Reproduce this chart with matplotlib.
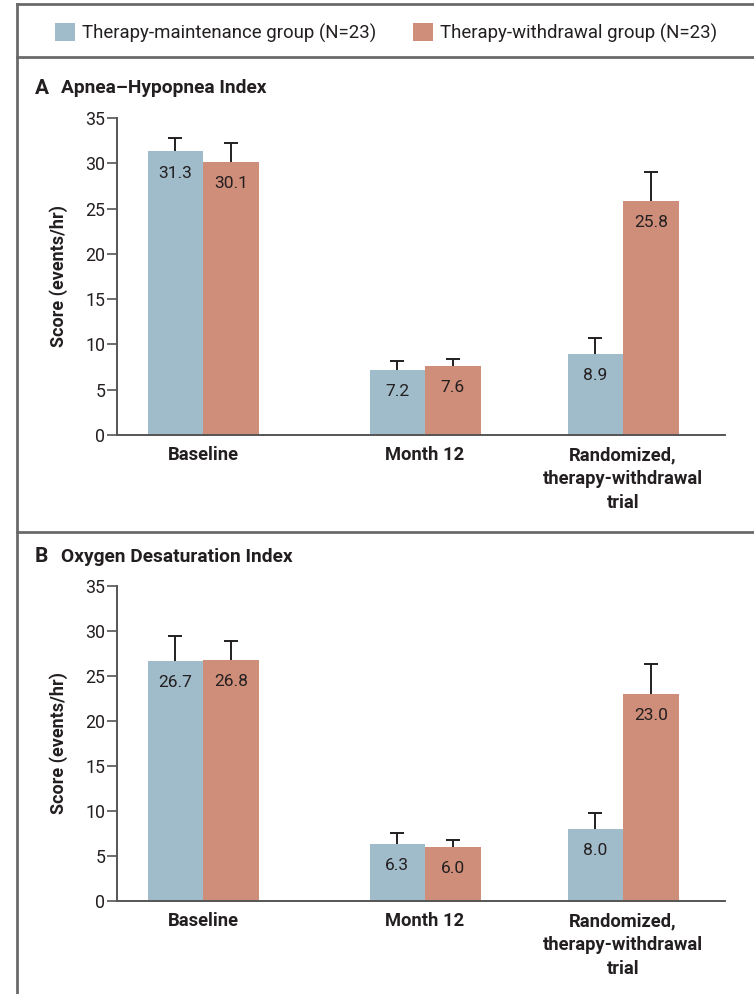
import matplotlib
matplotlib.use("Agg")
import matplotlib.pyplot as plt
from matplotlib.lines import Line2D
from matplotlib.patches import Patch
import numpy as np

plt.rcParams['font.family'] = ['Roboto', 'DejaVu Sans']

categories = ['Baseline', 'Month 12', 'Randomized,\ntherapy-withdrawal\ntrial']
groups = ['Therapy-maintenance group (N=23)', 'Therapy-withdrawal group (N=23)']

ahi_maint = [31.3, 7.2, 8.9]
ahi_withdraw = [30.1, 7.6, 25.8]
ahi_maint_err = [1.5, 1.0, 1.8]
ahi_withdraw_err = [2.1, 0.8, 3.2]

odi_maint = [26.7, 6.3, 8.0]
odi_withdraw = [26.8, 6.0, 23.0]
odi_maint_err = [2.7, 1.2, 1.8]
odi_withdraw_err = [2.1, 0.8, 3.3]

blue = '#a0bbc9'
salmon = '#cf8e79'
ink = '#231f20'
grey = '#555555'

# group centres (axis pixels from the y axis) and bar width
centres = np.array([86, 308, 506])
width = 55.5

fig = plt.figure(figsize=(7.54, 9.94), dpi=100)


def panel(rect, maint, withdraw, maint_err, withdraw_err):
    ax = fig.add_axes(rect)
    xm = centres - width / 2
    xw = centres + width / 2
    ax.bar(xm, maint, width, color=blue, zorder=2)
    ax.bar(xw, withdraw, width, color=salmon, zorder=2)
    for xs, vals, errs in [(xm, maint, maint_err), (xw, withdraw, withdraw_err)]:
        eb = ax.errorbar(xs, vals, yerr=[np.zeros(len(vals)), errs], fmt='none',
                         ecolor=ink, elinewidth=1.4, capsize=5, capthick=1.4, zorder=1)
        eb[1][0].set_visible(False)
        for x, v in zip(xs, vals):
            ax.annotate(f'{v:.1f}', (x, v), xytext=(0, -15.5), textcoords='offset points',
                        ha='center', va='center', fontsize=12.5, color=ink, zorder=3)
    ax.set_xlim(0, 608)
    ax.set_ylim(0, 35)
    ax.set_yticks(range(0, 36, 5))
    ax.set_xticks(centres)
    ax.set_xticklabels(categories, fontsize=13.2, fontweight='bold', color=ink, linespacing=1.42)
    ax.tick_params(axis='x', length=0, pad=8)
    ax.tick_params(axis='y', length=7, width=1.2, color=grey, pad=1.5, labelsize=12.8, labelcolor=ink)
    for s in ['top', 'right']:
        ax.spines[s].set_visible(False)
    for s in ['left', 'bottom']:
        ax.spines[s].set_color(grey)
        ax.spines[s].set_linewidth(1.4)
    ax.set_ylabel('Score (events/hr)', fontsize=13, fontweight='bold', color=ink)
    ax.yaxis.set_label_coords(-0.08, 0.5)
    return ax


panel([0.1552, 0.5624, 0.8064, 0.3189], ahi_maint, ahi_withdraw, ahi_maint_err, ahi_withdraw_err)
panel([0.1552, 0.0936, 0.8064, 0.3169], odi_maint, odi_withdraw, odi_maint_err, odi_withdraw_err)

fig.text(35 / 754, 1 - 88 / 994, 'A', fontsize=15, fontweight='bold', color=ink, va='center')
fig.text(61 / 754, 1 - 88 / 994, 'Apnea\u2013Hypopnea Index', fontsize=13.8, fontweight='bold',
         color=ink, va='center')
fig.text(35 / 754, 1 - 557 / 994, 'B', fontsize=15, fontweight='bold', color=ink, va='center')
fig.text(61 / 754, 1 - 557 / 994, 'Oxygen Desaturation Index', fontsize=13.8, fontweight='bold',
         color=ink, va='center')

handles = [Patch(facecolor=blue, edgecolor='none'), Patch(facecolor=salmon, edgecolor='none')]
fig.legend(handles, groups, loc='center left', bbox_to_anchor=(38 / 754, 1 - 33 / 994),
           ncol=2, frameon=False, fontsize=13.4, handlelength=1.07, handleheight=1.07,
           handletextpad=0.38, columnspacing=2.0, labelcolor=ink)

# frame lines
lk = dict(color='#6a6a6a', linewidth=2, transform=fig.transFigure)
fig.add_artist(Line2D([17 / 754, 17 / 754], [0, 1 - 4 / 994], **lk))
fig.add_artist(Line2D([17 / 754, 1], [1 - 4 / 994, 1 - 4 / 994], **lk))
fig.add_artist(Line2D([17 / 754, 1], [1 - 57 / 994, 1 - 57 / 994], **lk))
fig.add_artist(Line2D([17 / 754, 1], [1 - 532 / 994, 1 - 532 / 994], **lk))

fig.savefig('out.png', dpi=100)
